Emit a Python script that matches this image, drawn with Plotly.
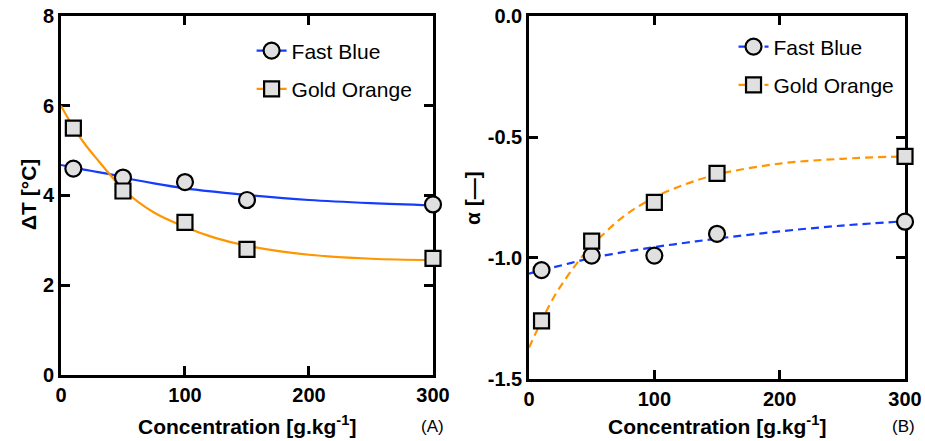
import plotly.graph_objects as go

# ---- data ----
conc = [10, 50, 100, 150, 300]

# Panel A: temperature difference
dT_fast_blue = [4.6, 4.4, 4.3, 3.9, 3.8]
dT_gold_orange = [5.5, 4.1, 3.4, 2.8, 2.6]

# Panel B: alpha
alpha_fast_blue = [-1.05, -0.99, -0.99, -0.90, -0.85]
alpha_gold_orange = [-1.26, -0.93, -0.77, -0.65, -0.58]

# fitted curves
fit_x = [0, 10, 20, 30, 40, 50, 75, 100, 125, 150, 200, 250, 300]
fitA_fast_blue = [4.68, 4.62, 4.57, 4.52, 4.47, 4.40, 4.27, 4.16, 4.08, 4.01, 3.90, 3.83, 3.78]
fitA_gold_orange = [6.00, 5.52, 5.12, 4.78, 4.45, 4.14, 3.62, 3.30, 3.05, 2.88, 2.68, 2.59, 2.56]
fitB_fast_blue = [-1.065, -1.05, -1.038, -1.025, -1.012, -1.0, -0.976, -0.955, -0.937, -0.92, -0.89, -0.866, -0.848]
fitB_gold_orange = [-1.37, -1.26, -1.16, -1.08, -1.01, -0.95, -0.83, -0.75, -0.695, -0.655, -0.61, -0.59, -0.58]

series_names = ["Fast Blue", "Gold Orange"]
BLUE = "rgb(20,60,255)"
ORANGE = "rgb(255,150,0)"
FILL = "rgb(224,224,224)"
FONT = "Liberation Sans, Arial, sans-serif"

fig = go.Figure()

def add_panel(xa, ya, fits, pts, dash, legend):
    colors = [BLUE, ORANGE]
    symbols = ["circle", "square"]
    sizes = [16, 15]
    for i in range(2):
        fig.add_trace(go.Scatter(x=fit_x, y=fits[i], mode="lines", xaxis=xa, yaxis=ya,
                                 line=dict(color=colors[i], width=2.2, dash=dash, shape="spline"),
                                 showlegend=False, hoverinfo="skip"))
    for i in range(2):
        fig.add_trace(go.Scatter(x=conc, y=pts[i], mode="markers", xaxis=xa, yaxis=ya,
                                 marker=dict(symbol=symbols[i], size=sizes[i], color=FILL,
                                             line=dict(color="black", width=2.2)),
                                 cliponaxis=False, showlegend=False))
    for i in range(2):
        fig.add_trace(go.Scatter(x=[None], y=[None], mode="lines+markers", xaxis=xa, yaxis=ya,
                                 name=series_names[i], legend=legend, legendgroup=legend + str(i),
                                 line=dict(color=colors[i], width=2.2, dash=dash),
                                 marker=dict(symbol=symbols[i], size=sizes[i], color=FILL,
                                             line=dict(color="black", width=2.2))))

add_panel("x", "y", [fitA_fast_blue, fitA_gold_orange], [dT_fast_blue, dT_gold_orange], "solid", "legend")
add_panel("x2", "y2", [fitB_fast_blue, fitB_gold_orange], [alpha_fast_blue, alpha_gold_orange], "8px,5px", "legend2")

axis_common = dict(showline=True, linecolor="black", linewidth=2.5, mirror="ticks",
                   ticks="inside", ticklen=9, tickwidth=2.5, tickcolor="black",
                   showgrid=False, zeroline=False, layer="below traces", automargin=False,
                   tickfont=dict(family=FONT, size=20, color="black", weight="bold"))

fig.update_layout(
    width=925, height=441,
    margin=dict(l=0, r=0, t=0, b=0, autoexpand=False),
    paper_bgcolor="white", plot_bgcolor="white",
    xaxis=dict(domain=[0.0659, 0.4681], range=[0, 300], tickvals=[0, 100, 200, 300], anchor="y", **axis_common),
    yaxis=dict(domain=[0.1497, 0.9637], range=[0, 8], tickvals=[0, 2, 4, 6, 8], anchor="x", **axis_common),
    xaxis2=dict(domain=[0.5719, 0.9784], range=[0, 300], tickvals=[0, 100, 200, 300], anchor="y2", **axis_common),
    yaxis2=dict(domain=[0.1406, 0.9637], range=[-1.5, 0], tickvals=[-1.5, -1.0, -0.5, 0.0],
                ticktext=["-1.5", "-1.0", "-0.5", "0.0"], anchor="x2", **axis_common),
    legend=dict(x=0.272, y=0.931, xanchor="left", yanchor="top", bgcolor="rgba(0,0,0,0)",
                font=dict(family=FONT, size=21, color="black"), tracegroupgap=8),
    legend2=dict(x=0.793, y=0.940, xanchor="left", yanchor="top", bgcolor="rgba(0,0,0,0)",
                 font=dict(family=FONT, size=21, color="black"), tracegroupgap=8),
    showlegend=True,
)

ann = [
    dict(text="Concentration [g.kg<sup>-1</sup>]", x=247, y=425, bold=True),
    dict(text="Concentration [g.kg<sup>-1</sup>]", x=717, y=425, bold=True),
    dict(text="(A)", x=432, y=426, bold=False),
    dict(text="(B)", x=903, y=426, bold=False),
]
for a in ann:
    fig.add_annotation(text=a["text"], x=a["x"] / 925, y=1 - a["y"] / 441, xref="paper", yref="paper",
                       showarrow=False, xanchor="center", yanchor="middle",
                       font=dict(family=FONT, size=21 if a["bold"] else 17, color="black",
                                 weight="bold" if a["bold"] else "normal"))

fig.add_annotation(text="ΔT [°C]", x=28 / 925, y=1 - 195 / 441, xref="paper", yref="paper", showarrow=False,
                   textangle=-90, xanchor="center", yanchor="middle",
                   font=dict(family=FONT, size=21, color="black", weight="bold"))
fig.add_annotation(text="α [—]", x=472 / 925, y=1 - 198 / 441, xref="paper", yref="paper", showarrow=False,
                   textangle=-90, xanchor="center", yanchor="middle",
                   font=dict(family=FONT, size=21, color="black", weight="bold"))

fig.write_html("out.html")
